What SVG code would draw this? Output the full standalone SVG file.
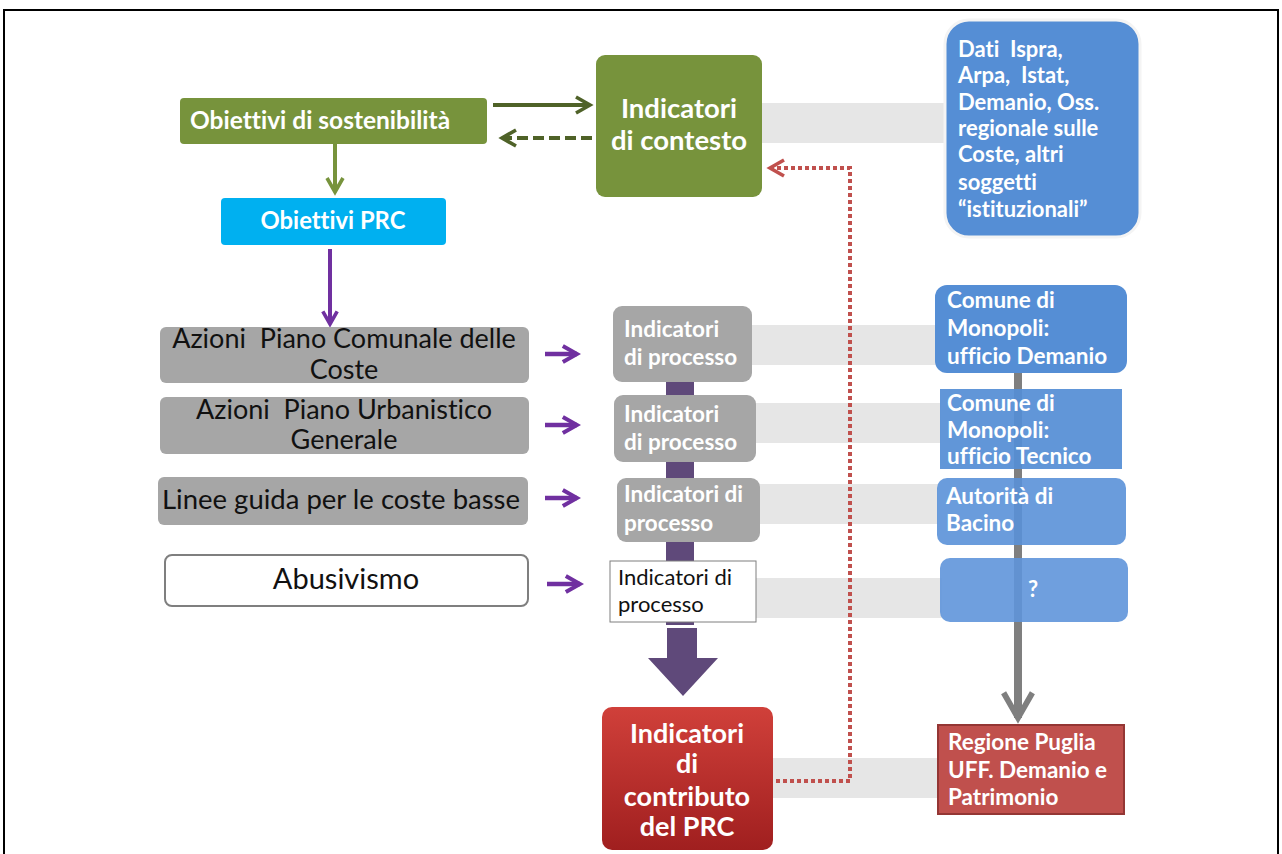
<svg xmlns="http://www.w3.org/2000/svg" width="1282" height="854" viewBox="0 0 1282 854">
  <style>
    text { font-variant-ligatures: none; }
    .pre { white-space: pre; }
    .w { fill: #ffffff; font-family: Lato, "Open Sans", sans-serif; font-weight: bold; }
    .k { fill: #111111; font-family: Lato, "Open Sans", sans-serif; }
    .band { fill: #e6e6e6; }
    .gbox { fill: #a6a6a6; }
    .bbox { fill: #558ed5; }
  </style>
  <defs>
    <linearGradient id="redGrad" x1="0" y1="0" x2="0" y2="1">
      <stop offset="0" stop-color="#d0403a"/>
      <stop offset="1" stop-color="#a01f1f"/>
    </linearGradient>
    <marker id="chevGreen" viewBox="0 0 10 10" refX="8" refY="5" markerWidth="5" markerHeight="5" orient="auto">
      <path d="M1,1 L8,5 L1,9" fill="none" stroke="#4f6228" stroke-width="1.8"/>
    </marker>
    <marker id="chevGreen2" viewBox="0 0 10 10" refX="8" refY="5" markerWidth="5" markerHeight="5" orient="auto">
      <path d="M1,1 L8,5 L1,9" fill="none" stroke="#77933c" stroke-width="1.8"/>
    </marker>
    <marker id="chevPurple" viewBox="0 0 10 10" refX="8" refY="5" markerWidth="4.5" markerHeight="4.5" orient="auto">
      <path d="M1,1 L8,5 L1,9" fill="none" stroke="#7030a0" stroke-width="2"/>
    </marker>
    <marker id="chevGray" viewBox="0 0 10 10" refX="8" refY="5" markerWidth="4.5" markerHeight="4.5" orient="auto">
      <path d="M1,1 L8,5 L1,9" fill="none" stroke="#7f7f7f" stroke-width="1.6"/>
    </marker>
    <marker id="chevRed" viewBox="0 0 10 10" refX="8" refY="5" markerWidth="5" markerHeight="5" orient="auto">
      <path d="M1,1 L8,5 L1,9" fill="none" stroke="#c0504d" stroke-width="1.8"/>
    </marker>
  </defs>

  <rect x="0" y="0" width="1282" height="854" fill="#ffffff"/>
  <!-- page frame -->
  <path d="M4,860 L4,10 L1278,10 L1278,860" fill="none" stroke="#000000" stroke-width="2"/>

  <!-- grey bands linking indicators to data sources -->
  <g id="bands">
    <rect class="band" x="762" y="103" width="185" height="40"/>
    <rect class="band" x="752" y="325" width="185" height="40"/>
    <rect class="band" x="756" y="403" width="185" height="40"/>
    <rect class="band" x="760" y="484" width="178" height="40"/>
    <rect class="band" x="756" y="578" width="186" height="40"/>
    <rect class="band" x="773" y="758" width="167" height="40"/>
  </g>

  <!-- purple spine of process indicators -->
  <g id="spine">
    <rect x="666" y="380" width="28" height="245" fill="#5f497a"/>
  </g>

  <!-- grey spine of data sources -->
  <g id="spine-sources">
    <line x1="1018" y1="372" x2="1018" y2="718" stroke="#7f7f7f" stroke-width="8" marker-end="url(#chevGray)"/>
  </g>

  <g id="connectors">
    <line x1="493" y1="105" x2="590" y2="105" stroke="#4f6228" stroke-width="4" marker-end="url(#chevGreen)"/>
    <line x1="592" y1="138" x2="502" y2="138" stroke="#4f6228" stroke-width="4" stroke-dasharray="11 5" marker-end="url(#chevGreen)"/>
    <line x1="335" y1="144" x2="335" y2="192" stroke="#77933c" stroke-width="4" marker-end="url(#chevGreen2)"/>
    <line x1="330" y1="249" x2="330" y2="324" stroke="#7030a0" stroke-width="4" marker-end="url(#chevPurple)"/>
    <line x1="545" y1="354" x2="577" y2="354" stroke="#7030a0" stroke-width="4.5" marker-end="url(#chevPurple)"/>
    <line x1="545" y1="425" x2="577" y2="425" stroke="#7030a0" stroke-width="4.5" marker-end="url(#chevPurple)"/>
    <line x1="545" y1="498" x2="577" y2="498" stroke="#7030a0" stroke-width="4.5" marker-end="url(#chevPurple)"/>
    <line x1="547" y1="584" x2="580" y2="584" stroke="#7030a0" stroke-width="4.5" marker-end="url(#chevPurple)"/>
    <!-- big block arrow into the contribution indicators -->
    <path d="M667,628 L697,628 L697,658 L718,658 L683,696 L648,658 L667,658 Z" fill="#5f497a"/>
    <!-- dotted feedback loop -->
    <polyline points="776,781 850,781 850,168 770,168" fill="none" stroke="#c0504d" stroke-width="4" stroke-dasharray="4 3" marker-end="url(#chevRed)"/>
  </g>

  <g id="obiettivi-sostenibilita">
    <rect x="180" y="98" width="307" height="46" rx="4" fill="#77933c"/>
    <text class="w" x="190" y="129" font-size="24.5">Obiettivi di sostenibilità</text>
  </g>

  <g id="indicatori-contesto">
    <rect x="596" y="55" width="166" height="142" rx="9" fill="#77933c"/>
    <text class="w" x="679" y="118" font-size="27.5" text-anchor="middle">Indicatori</text>
    <text class="w" x="679" y="150" font-size="27.5" text-anchor="middle">di contesto</text>
  </g>

  <g id="dati" class="w" font-size="22">
    <rect x="945" y="20" width="195" height="217" rx="24" fill="#558ed5" stroke="#f4f4f4" stroke-width="3"/>
    <text class="w pre" x="958" y="57">Dati  Ispra,</text>
    <text class="w pre" x="958" y="83">Arpa,  Istat,</text>
    <text class="w" x="958" y="110">Demanio, Oss.</text>
    <text class="w" x="958" y="136">regionale sulle</text>
    <text class="w" x="958" y="162">Coste, altri</text>
    <text class="w" x="958" y="190">soggetti</text>
    <text class="w" x="958" y="217">“istituzionali”</text>
  </g>

  <g id="obiettivi-prc">
    <rect x="221" y="198" width="225" height="47" rx="4" fill="#00b0f0"/>
    <text class="w" x="333" y="229" font-size="23.8" text-anchor="middle">Obiettivi PRC</text>
  </g>

  <g id="azioni-pcc">
    <rect class="gbox" x="160" y="327" width="369" height="56" rx="6"/>
    <text class="k pre" x="344" y="348" font-size="27" text-anchor="middle">Azioni  Piano Comunale delle</text>
    <text class="k" x="344" y="379" font-size="27" text-anchor="middle">Coste</text>
  </g>

  <g id="azioni-pug">
    <rect class="gbox" x="160" y="397" width="369" height="57" rx="6"/>
    <text class="k pre" x="344" y="419" font-size="27" text-anchor="middle">Azioni  Piano Urbanistico</text>
    <text class="k" x="344" y="449" font-size="27" text-anchor="middle">Generale</text>
  </g>

  <g id="linee-guida">
    <rect class="gbox" x="158" y="477" width="370" height="48" rx="6"/>
    <text class="k" x="341" y="509" font-size="27.5" text-anchor="middle">Linee guida per le coste basse</text>
  </g>

  <g id="abusivismo">
    <rect x="165" y="555" width="363" height="51" rx="7" fill="#ffffff" stroke="#7f7f7f" stroke-width="2"/>
    <text class="k" x="346" y="589" font-size="29" text-anchor="middle">Abusivismo</text>
  </g>

  <g id="processo-1">
    <rect class="gbox" x="613" y="306" width="139" height="76" rx="9"/>
    <text class="w" x="624" y="337" font-size="22.5">Indicatori</text>
    <text class="w" x="624" y="365" font-size="22.5">di processo</text>
  </g>

  <g id="processo-2">
    <rect class="gbox" x="614" y="395" width="142" height="67" rx="9"/>
    <text class="w" x="624" y="422" font-size="22.5">Indicatori</text>
    <text class="w" x="624" y="450" font-size="22.5">di processo</text>
  </g>

  <g id="processo-3">
    <rect class="gbox" x="617" y="478" width="143" height="64" rx="9"/>
    <text class="w" x="624" y="502" font-size="22.5">Indicatori di</text>
    <text class="w" x="624" y="531" font-size="22.5">processo</text>
  </g>

  <g id="processo-4">
    <rect x="610" y="561" width="146" height="61" fill="#ffffff" stroke="#7f7f7f" stroke-width="1"/>
    <text class="k" x="618" y="585" font-size="22">Indicatori di</text>
    <text class="k" x="618" y="612" font-size="22">processo</text>
  </g>

  <g id="comune-demanio">
    <rect class="bbox" x="935" y="285" width="192" height="88" rx="12"/>
    <text class="w" x="947" y="308" font-size="22.5">Comune di</text>
    <text class="w" x="947" y="336" font-size="22.5">Monopoli:</text>
    <text class="w" x="947" y="364" font-size="22.5">ufficio Demanio</text>
  </g>

  <g id="comune-tecnico">
    <rect class="bbox" x="940" y="389" width="182" height="80" fill-opacity="0.93"/>
    <text class="w" x="947" y="411" font-size="22.5">Comune di</text>
    <text class="w" x="947" y="438" font-size="22.5">Monopoli:</text>
    <text class="w" x="947" y="464" font-size="22.5">ufficio Tecnico</text>
  </g>

  <g id="autorita-bacino">
    <rect x="937" y="478" width="189" height="67" rx="10" fill="#5a91d8" fill-opacity="0.9"/>
    <text class="w" x="946" y="504" font-size="22.5">Autorità di</text>
    <text class="w" x="946" y="531" font-size="22.5">Bacino</text>
  </g>

  <g id="sconosciuto">
    <rect x="940" y="558" width="188" height="64" rx="10" fill="#5f95da" fill-opacity="0.9"/>
    <text class="w" x="1033" y="597" font-size="22" text-anchor="middle">?</text>
  </g>

  <g id="contributo-prc">
    <rect x="602" y="707" width="171" height="143" rx="10" fill="url(#redGrad)"/>
    <text class="w" x="687" y="743" font-size="27" text-anchor="middle">Indicatori</text>
    <text class="w" x="687" y="773" font-size="27" text-anchor="middle">di</text>
    <text class="w" x="687" y="806" font-size="27" text-anchor="middle">contributo</text>
    <text class="w" x="687" y="836" font-size="27" text-anchor="middle">del PRC</text>
  </g>

  <g id="regione-puglia">
    <rect x="938" y="725" width="186" height="89" fill="#c0504d" stroke="#943634" stroke-width="2"/>
    <text class="w" x="948" y="750" font-size="22.5">Regione Puglia</text>
    <text class="w" x="948" y="778" font-size="22.5">UFF. Demanio e</text>
    <text class="w" x="948" y="805" font-size="22.5">Patrimonio</text>
  </g>
</svg>
